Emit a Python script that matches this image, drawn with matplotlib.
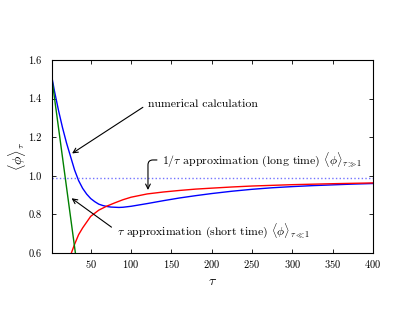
import matplotlib
matplotlib.use('Agg')
import matplotlib.pyplot as plt

# Style close to a LaTeX-rendered figure
plt.rcParams['font.family'] = 'serif'
plt.rcParams['font.serif'] = ['cmr10']
plt.rcParams['mathtext.fontset'] = 'cm'
plt.rcParams['axes.formatter.use_mathtext'] = True
plt.rcParams['xtick.direction'] = 'in'
plt.rcParams['ytick.direction'] = 'in'
plt.rcParams['xtick.top'] = True
plt.rcParams['ytick.right'] = True

# Numerical calculation (blue)
tau_num = [1, 5, 10, 15, 20, 25, 30, 35, 40, 45, 50, 55, 60, 65, 70, 75, 80, 85, 90,
           100, 110, 120, 140, 160, 180, 200, 225, 250, 275, 300, 325, 350, 375, 400]
phi_num = [1.53, 1.44, 1.34, 1.25, 1.17, 1.10, 1.03, 0.975, 0.935, 0.905, 0.882, 0.866, 0.853,
           0.846, 0.841, 0.838, 0.837, 0.836, 0.837, 0.842, 0.849, 0.856, 0.871, 0.885,
           0.897, 0.908, 0.920, 0.930, 0.938, 0.944, 0.949, 0.953, 0.957, 0.960]

# 1/tau approximation, long time (red)
tau_long = [26, 30, 35, 40, 50, 60, 70, 80, 90, 100, 120, 140, 160, 180, 200, 225, 250,
            300, 350, 400]
phi_long = [0.60, 0.645, 0.695, 0.730, 0.790, 0.822, 0.843, 0.860, 0.876, 0.889, 0.906,
            0.916, 0.924, 0.931, 0.936, 0.942, 0.947, 0.954, 0.959, 0.963]

# tau approximation, short time (green)
tau_short = [1, 31]
phi_short = [1.53, 0.60]

# long-time limit (dotted)
phi_limit = 0.99

fig = plt.figure(figsize=(4.15, 3.22), dpi=100)
ax = fig.add_axes([0.1253, 0.2143, 0.7735, 0.5994])

ax.plot(tau_num, phi_num, color='b', lw=1)
ax.plot(tau_long, phi_long, color='r', lw=1)
ax.plot(tau_short, phi_short, color='g', lw=1)
ax.axhline(phi_limit, color=(0.45, 0.45, 1.0), ls=':', lw=1)

ax.set_xlim(2, 400)
ax.set_ylim(0.6, 1.6)
ax.set_xticks([50, 100, 150, 200, 250, 300, 350, 400])
ax.set_yticks([0.6, 0.8, 1.0, 1.2, 1.4, 1.6])
ax.set_yticklabels(['0.6', '0.8', '1.0', '1.2', '1.4', '1.6'])
ax.tick_params(labelsize=7.5, length=3, width=0.6)
ax.tick_params(axis='y', pad=7.5)
ax.tick_params(axis='x', pad=3.5)
for s in ax.spines.values():
    s.set_linewidth(0.8)

ax.set_xlabel(r'$\tau$', fontsize=10)
ax.set_ylabel(r'$\langle\phi\rangle_\tau$', fontsize=10, labelpad=0)

arrow = dict(arrowstyle='->', color='k', lw=0.8, relpos=(0, 0.5))

ax.annotate('numerical calculation', xy=(24, 1.108), xytext=(121, 1.372),
            ha='left', va='center', fontsize=8.5, arrowprops=arrow)

ax.annotate(r'$1/\tau$ approximation (long time) $\langle\phi\rangle_{\tau\gg1}$',
            xy=(121, 0.912), xytext=(139, 1.082), ha='left', va='center', fontsize=8.5,
            arrowprops=dict(arrow, connectionstyle='angle,angleA=0,angleB=90,rad=5'))

ax.annotate(r'$\tau$ approximation (short time) $\langle\phi\rangle_{\tau\ll1}$',
            xy=(23.5, 0.892), xytext=(82, 0.715), ha='left', va='center', fontsize=8.5,
            arrowprops=arrow)

fig.savefig('out.png', dpi=100)
